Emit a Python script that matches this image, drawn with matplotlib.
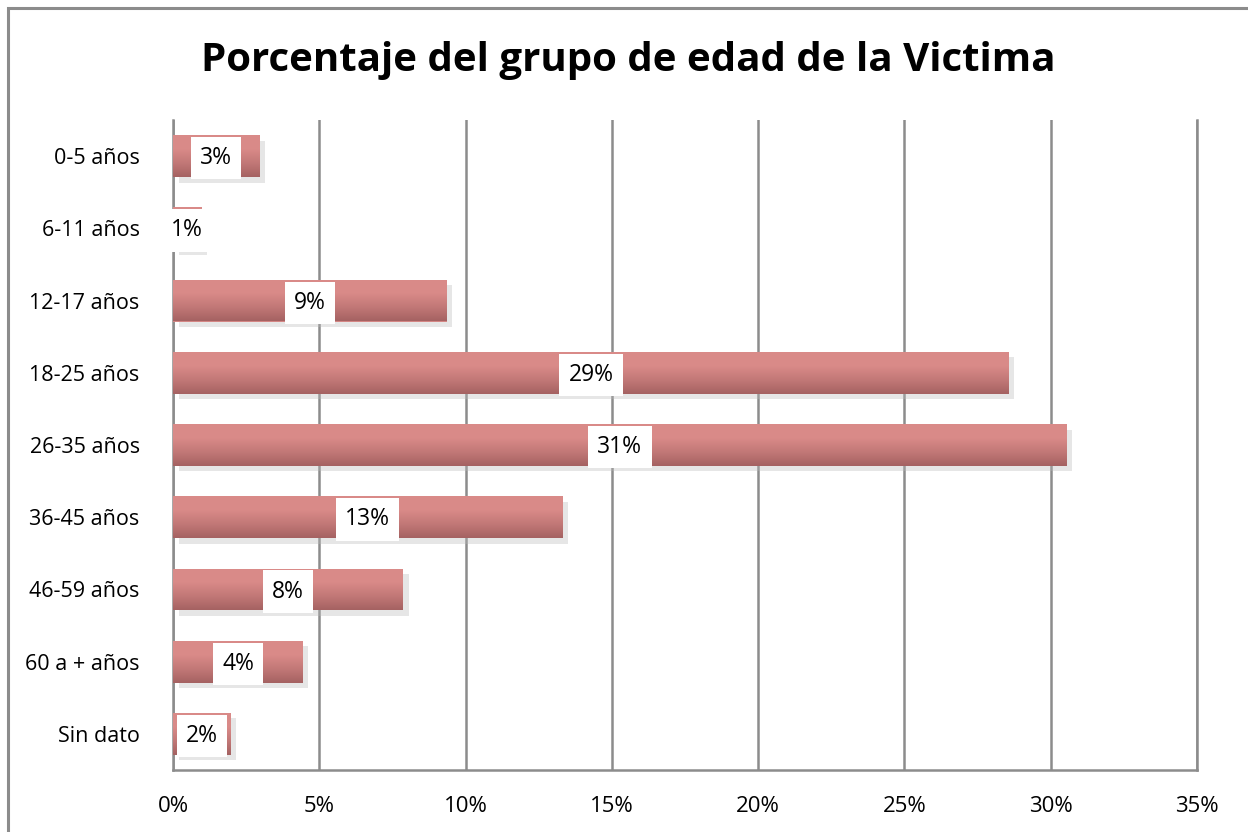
import numpy as np
import matplotlib.pyplot as plt
import matplotlib.patheffects as pe
from matplotlib.colors import LinearSegmentedColormap
from matplotlib.patches import Rectangle

# Data
categories = ['0-5 años', '6-11 años', '12-17 años', '18-25 años', '26-35 años',
              '36-45 años', '46-59 años', '60 a + años', 'Sin dato']
values = [2.94, 0.96, 9.36, 28.57, 30.55, 13.3, 7.86, 4.44, 1.98]
labels = ['3%', '1%', '9%', '29%', '31%', '13%', '8%', '4%', '2%']

plt.rcParams['font.family'] = ['Open Sans', 'DejaVu Sans']

fig = plt.figure(figsize=(12.48, 8.32), dpi=100)
ax = fig.add_axes([173/1248, 1 - 770/832, (1197-173)/1248, (770-120)/832])

# outer chart frame (cut at right and bottom like the screenshot)
fig.patches.append(Rectangle((8/1248, -0.05), 1.1, 1 - 8/832 + 0.05,
                             transform=fig.transFigure, fill=False,
                             edgecolor='#8c8c8c', linewidth=2.2))

y = np.arange(len(categories))
h = 0.58
grad = LinearSegmentedColormap.from_list('bar', ['#da8b89', '#d98a88', '#c27877', '#a56262'])
gimg = np.linspace(0, 1, 100).reshape(-1, 1)

bars = ax.barh(y, values, height=h, color='#d48684', zorder=3,
               path_effects=[pe.SimplePatchShadow(offset=(4, -4), shadow_rgbFace='#b8b8b8', alpha=0.35),
                             pe.Normal()])
for b, v, lab, yy in zip(bars, values, labels, y):
    im = ax.imshow(gimg, cmap=grad, aspect='auto', origin='upper',
                   extent=[0, v, yy + h/2, yy - h/2], zorder=3.5)
    im.set_clip_path(b)
    ax.text(v / 2, yy + 0.03, lab, ha='center', va='center', fontsize=16.5, color='black', zorder=5,
            bbox=dict(boxstyle='square,pad=0.4', fc='white', ec='none'))

ax.set_xlim(0, 35)
ax.set_ylim(len(categories) - 0.5, -0.5)
ax.set_xticks(np.arange(0, 36, 5))
ax.set_xticklabels([f'{t}%' for t in range(0, 36, 5)], fontsize=16)
ax.set_yticks(y)
ax.set_yticklabels(categories, fontsize=15.5)
ax.tick_params(axis='x', length=0, pad=19)
ax.tick_params(axis='y', length=0, pad=24)
ax.grid(axis='x', color='#8c8c8c', linewidth=1.8, zorder=1)
ax.set_axisbelow(True)
ax.spines['top'].set_visible(False)
for s in ['left', 'bottom', 'right']:
    ax.spines[s].set_color('#8c8c8c')
    ax.spines[s].set_linewidth(1.8)

fig.text(628/1248, 1 - 60/832, 'Porcentaje del grupo de edad de la Victima',
         ha='center', va='center', fontsize=29, fontweight='bold')

fig.savefig('out.png', dpi=100)
